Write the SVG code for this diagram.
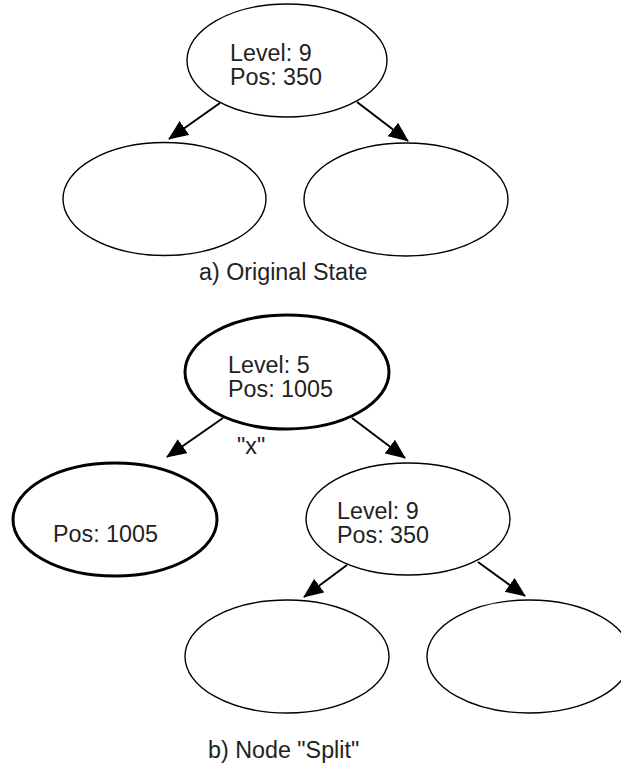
<svg xmlns="http://www.w3.org/2000/svg" width="621" height="765" viewBox="0 0 621 765">
<style>
  .n { fill: #fff; stroke: #000; stroke-width: 1.4; }
  .thick { stroke-width: 3; }
  .t { font-family: "Liberation Sans", Arial, sans-serif; font-size: 23.3px; fill: #222; }
  .c { fill: none; stroke: #000; stroke-width: 2; marker-end: url(#arr); }
</style>
<defs>
  <marker id="arr" markerUnits="userSpaceOnUse" markerWidth="22" markerHeight="18" refX="19" refY="8.5" orient="auto">
    <path d="M0,0 L20,8.5 L0,17 z" fill="#000"/>
  </marker>
</defs>
<rect width="621" height="765" fill="#fff"/>

<g id="connectors">
  <line class="c" x1="220" y1="103" x2="169" y2="139"/>
  <line class="c" x1="357" y1="102" x2="408" y2="141"/>
  <line class="c" x1="223" y1="418" x2="167" y2="457"/>
  <line class="c" x1="352" y1="418" x2="405" y2="458"/>
  <line class="c" x1="347" y1="565" x2="304" y2="597"/>
  <line class="c" x1="478" y1="562" x2="525" y2="596"/>
</g>

<g id="a-root">
  <ellipse class="n" cx="287" cy="60.5" rx="100" ry="56.5"/>
  <text class="t" x="230" y="61">Level: 9</text>
  <text class="t" x="230" y="85">Pos: 350</text>
</g>
<g id="a-left">
  <ellipse class="n" cx="164.5" cy="199" rx="101.5" ry="56.5"/>
</g>
<g id="a-right">
  <ellipse class="n" cx="406" cy="199.5" rx="102" ry="56.5"/>
</g>
<text id="caption-a" class="t" x="199" y="280">a) Original State</text>

<g id="b-root">
  <ellipse class="n thick" cx="287" cy="372" rx="102" ry="57"/>
  <text class="t" x="228" y="373">Level: 5</text>
  <text class="t" x="228" y="397">Pos: 1005</text>
</g>
<text id="label-x" class="t" x="237" y="454">"x"</text>
<g id="b-left">
  <ellipse class="n thick" cx="115" cy="519.5" rx="102" ry="56.5"/>
  <text class="t" x="53" y="542">Pos: 1005</text>
</g>
<g id="b-mid">
  <ellipse class="n" cx="408" cy="519" rx="102" ry="56"/>
  <text class="t" x="337" y="519">Level: 9</text>
  <text class="t" x="337" y="543">Pos: 350</text>
</g>
<g id="b-ll">
  <ellipse class="n" cx="287" cy="656.5" rx="102" ry="56.5"/>
</g>
<g id="b-lr">
  <ellipse class="n" cx="529" cy="656.5" rx="102" ry="56.5"/>
</g>
<text id="caption-b" class="t" x="208" y="758">b) Node "Split"</text>
</svg>
